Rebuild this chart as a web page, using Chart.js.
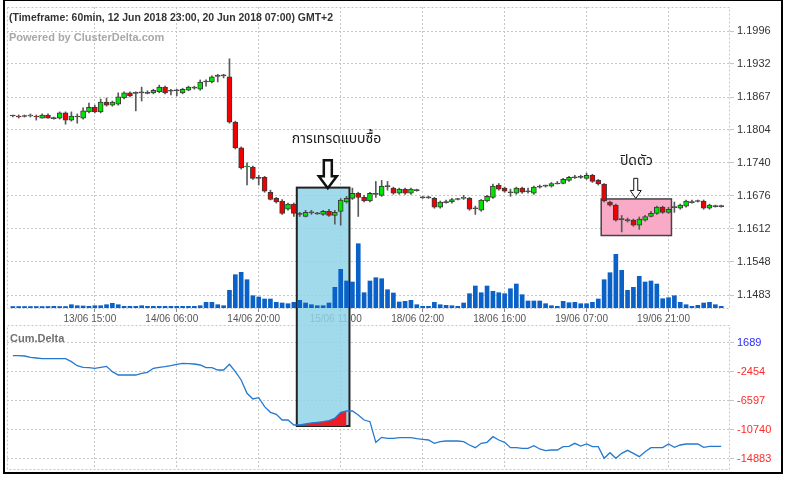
<!DOCTYPE html>
<html>
<head>
<meta charset="utf-8">
<script src="https://cdn.jsdelivr.net/npm/chart.js@4.4.1/dist/chart.umd.min.js"></script>
<style>
  body { margin: 0; background: #fff; }
  #wrap { position: relative; width: 789px; height: 480px; }
  canvas { position: absolute; left: 0; }
  #top { top: 0; }
  #bottom { top: 325px; }
  #frame { position: absolute; left: 3px; top: -1px; width: 780px; height: 475px; box-sizing: border-box; border: 2px solid #000; pointer-events: none; }
</style>
</head>
<body>
<div id="wrap">
  <canvas id="top" width="789" height="325"></canvas>
  <canvas id="bottom" width="789" height="150"></canvas>
  <div id="frame"></div>
</div>
<script>
// --- ข้อมูล (1 แท่ง = 1 ชั่วโมง) ---
const openP = [1.1831,1.1831,1.1831,1.1831,1.1831,1.1827,1.1833,1.1827,1.1827,1.1837,
  1.1823,1.1829,1.1827,1.1839,1.1848,1.1839,1.1858,1.1852,1.1854,1.1866,
  1.1876,1.1876,1.1876,1.1876,1.1876,1.1878,1.1887,1.1880,1.1880,1.1876,
  1.1881,1.1885,1.1883,1.1897,1.1897,1.1909,1.1909,1.1907,1.1819,1.1769,
  1.1732,1.1732,1.1712,1.1712,1.1683,1.1671,1.1666,1.1650,1.1660,1.1642,
  1.1636,1.1644,1.1642,1.1640,1.1646,1.1638,1.1646,1.1664,1.1671,1.1681,
  1.1673,1.1666,1.1679,1.1677,1.1695,1.1691,1.1681,1.1689,1.1681,1.1687,
  1.1673,1.1673,1.1671,1.1654,1.1664,1.1664,1.1669,1.1671,1.1671,1.1652,
  1.1648,1.1666,1.1673,1.1697,1.1691,1.1683,1.1681,1.1691,1.1685,1.1681,
  1.1693,1.1695,1.1695,1.1700,1.1700,1.1706,1.1712,1.1712,1.1710,1.1716,
  1.1706,1.1699,1.1664,1.1658,1.1631,1.1629,1.1629,1.1619,1.1629,1.1636,
  1.1642,1.1654,1.1644,1.1654,1.1652,1.1656,1.1664,1.1666,1.1666,1.1652,
  1.1656,1.1656];
const highP = [1.1833,1.1833,1.1833,1.1835,1.1833,1.1835,1.1835,1.1829,1.1839,1.1839,
  1.1839,1.1835,1.1847,1.1856,1.1852,1.1864,1.1866,1.1860,1.1876,1.1878,
  1.1878,1.1878,1.1887,1.1880,1.1883,1.1891,1.1889,1.1883,1.1883,1.1885,
  1.1889,1.1889,1.1901,1.1901,1.1909,1.1912,1.1912,1.1942,1.1821,1.1771,
  1.1740,1.1734,1.1716,1.1714,1.1687,1.1673,1.1669,1.1662,1.1662,1.1644,
  1.1648,1.1648,1.1644,1.1648,1.1650,1.1648,1.1671,1.1675,1.1691,1.1683,
  1.1677,1.1683,1.1704,1.1706,1.1704,1.1693,1.1691,1.1691,1.1691,1.1689,
  1.1675,1.1675,1.1673,1.1666,1.1668,1.1671,1.1671,1.1677,1.1673,1.1656,
  1.1669,1.1677,1.1699,1.1700,1.1693,1.1689,1.1693,1.1693,1.1691,1.1695,
  1.1697,1.1697,1.1702,1.1704,1.1710,1.1714,1.1716,1.1716,1.1720,1.1718,
  1.1708,1.1700,1.1666,1.1660,1.1638,1.1633,1.1631,1.1635,1.1638,1.1646,
  1.1656,1.1656,1.1654,1.1664,1.1660,1.1668,1.1668,1.1668,1.1668,1.1660,
  1.1658,1.1658];
const lowP = [1.1829,1.1827,1.1829,1.1829,1.1823,1.1827,1.1827,1.1825,1.1825,1.1815,
  1.1821,1.1817,1.1825,1.1837,1.1837,1.1837,1.1850,1.1850,1.1852,1.1864,
  1.1868,1.1841,1.1860,1.1874,1.1874,1.1876,1.1874,1.1872,1.1870,1.1874,
  1.1880,1.1883,1.1881,1.1889,1.1895,1.1897,1.1905,1.1817,1.1767,1.1728,
  1.1697,1.1708,1.1697,1.1683,1.1668,1.1662,1.1640,1.1648,1.1636,1.1636,
  1.1635,1.1640,1.1640,1.1638,1.1636,1.1621,1.1619,1.1662,1.1669,1.1636,
  1.1664,1.1664,1.1673,1.1675,1.1687,1.1679,1.1679,1.1679,1.1679,1.1685,
  1.1671,1.1671,1.1652,1.1652,1.1662,1.1662,1.1668,1.1669,1.1648,1.1640,
  1.1646,1.1664,1.1671,1.1687,1.1683,1.1675,1.1679,1.1681,1.1681,1.1679,
  1.1691,1.1693,1.1693,1.1699,1.1699,1.1704,1.1710,1.1710,1.1708,1.1702,
  1.1697,1.1664,1.1656,1.1627,1.1606,1.1625,1.1617,1.1611,1.1627,1.1635,
  1.1640,1.1642,1.1642,1.1644,1.1650,1.1654,1.1662,1.1664,1.1650,1.1650,
  1.1654,1.1654];
const closeP = [1.1831,1.1829,1.1830,1.1833,1.1829,1.1833,1.1827,1.1826,1.1837,1.1823,
  1.1831,1.1830,1.1841,1.1848,1.1839,1.1858,1.1852,1.1858,1.1868,1.1876,
  1.1870,1.1875,1.1877,1.1875,1.1881,1.1887,1.1876,1.1879,1.1880,1.1883,
  1.1887,1.1886,1.1897,1.1898,1.1907,1.1908,1.1909,1.1819,1.1769,1.1730,
  1.1734,1.1710,1.1710,1.1685,1.1669,1.1664,1.1642,1.1660,1.1642,1.1640,
  1.1644,1.1643,1.1641,1.1646,1.1638,1.1644,1.1668,1.1671,1.1681,1.1673,
  1.1666,1.1681,1.1680,1.1695,1.1694,1.1681,1.1689,1.1681,1.1689,1.1686,
  1.1672,1.1672,1.1654,1.1664,1.1663,1.1669,1.1669,1.1673,1.1650,1.1651,
  1.1668,1.1675,1.1695,1.1689,1.1685,1.1682,1.1691,1.1683,1.1684,1.1693,
  1.1694,1.1695,1.1700,1.1699,1.1708,1.1712,1.1711,1.1713,1.1716,1.1704,
  1.1699,1.1666,1.1658,1.1629,1.1630,1.1628,1.1619,1.1631,1.1636,1.1642,
  1.1654,1.1644,1.1650,1.1653,1.1658,1.1666,1.1663,1.1665,1.1652,1.1658,
  1.1655,1.1655];
const volume = [150,150,150,150,150,150,150,170,150,150,
  330,230,200,170,230,230,330,470,330,170,
  170,170,230,170,170,170,170,170,170,170,
  170,170,230,570,570,330,230,1770,3330,3570,
  2830,1230,1100,900,900,570,500,430,570,770,
  500,330,230,230,500,2070,3870,2700,2600,6430,
  1530,2700,3030,2930,1830,1500,600,670,770,330,
  170,170,570,330,270,230,170,500,1430,2200,
  1530,2200,1670,1530,1430,1930,2400,1330,700,700,
  700,430,230,170,670,530,570,430,430,570,
  900,2830,3530,5370,3770,1770,2070,3170,2600,2700,
  2400,930,1030,1230,570,330,170,270,500,570,
  330,170];
const cumDelta = [-121,-121,-169,-359,-454,-550,-550,-550,-550,-550,
  -978,-1550,-1788,-1836,-1931,-1788,-1645,-2407,-2884,-2884,
  -2884,-2884,-2645,-2502,-1931,-1788,-1693,-1550,-1359,-1216,
  -1264,-1312,-1455,-1836,-1836,-2169,-2169,-1359,-2407,-3598,
  -5503,-6313,-6122,-7408,-8219,-8504,-9315,-9315,-10028,-10028,
  -9886,-9743,-9648,-9552,-9410,-9075,-8219,-8028,-8028,-8599,
  -9315,-9552,-12505,-11791,-11933,-11933,-11838,-11838,-11838,-11981,
  -12076,-12171,-12648,-12410,-12314,-12314,-12314,-12410,-12886,-13267,
  -12648,-12505,-11696,-12171,-12505,-13267,-13267,-13362,-13362,-12981,
  -13457,-13696,-13601,-13601,-13124,-13076,-12648,-13029,-12743,-13124,
  -13124,-14791,-13982,-14791,-14077,-13648,-14077,-14553,-13839,-13267,
  -13267,-13267,-12743,-13219,-12886,-12743,-12743,-12743,-13219,-13076,
  -13076,-13076];
const xTickIdx = [14, 28, 42, 56, 70, 84, 98, 112];
const xTickLabels = ['13/06 15:00','14/06 06:00','14/06 20:00','15/06 11:00','18/06 02:00','18/06 16:00','19/06 07:00','19/06 21:00'];
const priceTicks = [1.1483, 1.1548, 1.1612, 1.1676, 1.1740, 1.1804, 1.1867, 1.1932, 1.1996];
const deltaTicks = [1689, -2454, -6597, -10740, -14883];

// โซนที่ทำเครื่องหมาย
const buyZone = { from: 48.5, to: 57.5, priceTop: 1.1692, deltaBottom: -10172 };
const closeZone = { from: 100.5, to: 112.5, priceTop: 1.1670, priceBottom: 1.1599 };
const buyFill = { from: 49, to: 57 };

const GRID = '#c6c6c6';
const UP = '#00e400', DOWN = '#f00000', DOJI = '#505050';

const idx = openP.map((_, i) => i);
const bodyColor = idx.map(i => Math.abs(closeP[i] - openP[i]) < 0.00012 ? DOJI : (closeP[i] > openP[i] ? UP : DOWN));

function dashedArea(chart) {
  const { ctx, chartArea: a } = chart;
  ctx.save();
  ctx.strokeStyle = GRID;
  ctx.setLineDash([2, 2]);
  ctx.lineWidth = 1;
  ctx.strokeRect(a.left + 0.5, a.top + 0.5, a.right - a.left - 1, a.bottom - a.top);
  ctx.restore();
}

function hollowArrow(ctx, cx, y0, y1, shaftW, headW, headH, lw) {
  ctx.beginPath();
  ctx.moveTo(cx - shaftW / 2, y0);
  ctx.lineTo(cx + shaftW / 2, y0);
  ctx.lineTo(cx + shaftW / 2, y1 - headH);
  ctx.lineTo(cx + headW / 2, y1 - headH);
  ctx.lineTo(cx, y1);
  ctx.lineTo(cx - headW / 2, y1 - headH);
  ctx.lineTo(cx - shaftW / 2, y1 - headH);
  ctx.closePath();
  ctx.fillStyle = '#fff';
  ctx.fill();
  ctx.lineWidth = lw;
  ctx.strokeStyle = '#111';
  ctx.stroke();
}

// ไม่ให้ Chart.js เผื่อที่ว่างครึ่งความสูงป้ายบน/ล่าง
function fixAxis(w) {
  return s => { s.width = w; s.paddingTop = 0; s.paddingBottom = 0; };
}

const THAI = "'Noto Sans Thai', Tahoma, 'DejaVu Sans', sans-serif";

const topPlugin = {
  id: 'topPlugin',
  beforeDatasetsDraw(chart) {
    const { ctx, scales: { x, y } } = chart;
    dashedArea(chart);
    ctx.save();
    ctx.textBaseline = 'middle';
    ctx.font = "bold 11px 'Liberation Sans', Arial, sans-serif";
    ctx.fillStyle = '#333';
    ctx.fillText('(Timeframe: 60min, 12 Jun 2018 23:00, 20 Jun 2018 07:00) GMT+2', 9, 18, 324);
    ctx.fillStyle = '#a8a8a8';
    ctx.fillText('Powered by ClusterDelta.com', 9, 38, 156);

    // กล่องชมพู
    const px1 = x.getPixelForValue(closeZone.from), px2 = x.getPixelForValue(closeZone.to);
    const py1 = y.getPixelForValue(closeZone.priceTop), py2 = y.getPixelForValue(closeZone.priceBottom);
    ctx.fillStyle = '#f9aac6';
    ctx.fillRect(px1, py1, px2 - px1, py2 - py1);
    ctx.strokeStyle = '#444';
    ctx.lineWidth = 1.5;
    ctx.strokeRect(px1, py1, px2 - px1, py2 - py1);

    // กล่องฟ้า (ส่วนบน)
    const bx1 = x.getPixelForValue(buyZone.from), bx2 = x.getPixelForValue(buyZone.to);
    const by1 = y.getPixelForValue(buyZone.priceTop), by2 = chart.height + 2;
    ctx.fillStyle = 'rgba(144,212,232,0.85)';
    ctx.fillRect(bx1, by1, bx2 - bx1, by2 - by1);
    ctx.strokeStyle = '#222';
    ctx.lineWidth = 2;
    ctx.strokeRect(bx1, by1, bx2 - bx1, by2 - by1);
    ctx.restore();
  },
  afterDatasetsDraw(chart) {
    const { ctx, scales: { x, y } } = chart;
    ctx.save();
    hollowArrow(ctx, x.getPixelForValue(53.8), y.getPixelForValue(1.1745), y.getPixelForValue(1.1691), 8, 18, 12, 2.5);
    hollowArrow(ctx, x.getPixelForValue(106.4), y.getPixelForValue(1.1710), y.getPixelForValue(1.1671), 4, 11, 8, 1);
    ctx.fillStyle = '#1a1a1a';
    ctx.textAlign = 'center';
    ctx.textBaseline = 'middle';
    ctx.font = '14px ' + THAI;
    ctx.fillText('การเทรดแบบซื้อ', x.getPixelForValue(55.3), y.getPixelForValue(1.1785));
    ctx.font = '14px ' + THAI;
    ctx.fillText('ปิดตัว', x.getPixelForValue(106.5), y.getPixelForValue(1.1741));
    ctx.restore();
  }
};

const bottomPlugin = {
  id: 'bottomPlugin',
  beforeDatasetsDraw(chart) {
    const { ctx, scales: { x, y } } = chart;
    dashedArea(chart);
    ctx.save();
    ctx.textBaseline = 'middle';
    ctx.font = "bold 11px 'Liberation Sans', Arial, sans-serif";
    ctx.fillStyle = '#707070';
    ctx.fillText('Cum.Delta', 10, 14, 55);
    const bx1 = x.getPixelForValue(buyZone.from), bx2 = x.getPixelForValue(buyZone.to);
    const by1 = -3, by2 = y.getPixelForValue(buyZone.deltaBottom);
    ctx.fillStyle = 'rgba(144,212,232,0.85)';
    ctx.fillRect(bx1, by1, bx2 - bx1, by2 - by1);
    ctx.strokeStyle = '#222';
    ctx.lineWidth = 2;
    ctx.strokeRect(bx1, by1, bx2 - bx1, by2 - by1);
    ctx.restore();
  }
};

const xCommon = {
  type: 'linear', min: -1, max: 122.5, offset: false,
  afterBuildTicks: s => { s.ticks = xTickIdx.map(v => ({ value: v })); },
};

new Chart(document.getElementById('top'), {
  type: 'bar',
  data: {
    datasets: [
      {
        label: 'body', order: 0, grouped: false, barThickness: 5, minBarLength: 1,
        data: idx.map(i => ({ x: i, y: [openP[i], closeP[i]] })),
        backgroundColor: bodyColor, borderColor: '#3a3a3a', borderWidth: 1, borderSkipped: false,
      },
      {
        label: 'wick', order: 1, grouped: false, barThickness: 1,
        data: idx.map(i => ({ x: i, y: [lowP[i], highP[i]] })),
        backgroundColor: '#5a5a5a', borderWidth: 0,
      },
      {
        label: 'volume', order: 2, grouped: false, barThickness: 4, yAxisID: 'vol',
        data: idx.map(i => ({ x: i, y: volume[i] })),
        backgroundColor: '#0a62c8', borderWidth: 0,
      },
    ],
  },
  options: {
    responsive: false, animation: false, devicePixelRatio: 1, events: [],
    layout: { padding: { left: 7, top: 7, right: 0, bottom: 0 } },
    plugins: { legend: { display: false }, tooltip: { enabled: false } },
    scales: {
      x: {
        ...xCommon,
        afterFit: s => { s.height = 17; s.paddingLeft = 0; s.paddingRight = 0; },
        grid: { offset: false, color: GRID, tickLength: 4, tickColor: '#888', tickBorderDash: [] },
        border: { display: false, dash: [2, 2] },
        ticks: {
          callback: (v, i) => xTickLabels[i], autoSkip: false, maxRotation: 0, padding: 1, labelOffset: -5,
          color: '#555', font: { size: 10, family: "'Liberation Sans', Arial, sans-serif" },
        },
      },
      y: {
        position: 'right', min: 1.14583, max: 1.20426,
        afterBuildTicks: s => { s.ticks = priceTicks.map(v => ({ value: v })); },
        afterFit: fixAxis(59),
        grid: { color: GRID, tickLength: 4 },
        border: { display: false, dash: [2, 2] },
        ticks: {
          callback: v => v.toFixed(4), padding: 3, color: '#333',
          font: { size: 11, family: "'Liberation Sans', Arial, sans-serif" },
        },
      },
      vol: { position: 'left', display: false, min: 0, max: 30100 },
    },
  },
  plugins: [topPlugin],
});

new Chart(document.getElementById('bottom'), {
  type: 'line',
  data: {
    datasets: [
      {
        label: 'Cum.Delta', order: 0,
        data: idx.map(i => ({ x: i, y: cumDelta[i] })),
        borderColor: '#2479d0', borderWidth: 1.3, pointRadius: 0, tension: 0, fill: false,
      },
      {
        label: 'buy', order: 1,
        data: idx.filter(i => i >= buyFill.from && i <= buyFill.to).map(i => ({ x: i, y: cumDelta[i] })),
        borderWidth: 0, pointRadius: 0, tension: 0,
        backgroundColor: '#ee1c24', fill: { value: buyZone.deltaBottom },
      },
    ],
  },
  options: {
    responsive: false, animation: false, devicePixelRatio: 1, events: [],
    layout: { padding: { left: 7, top: 0, right: 0, bottom: 6 } },
    plugins: { legend: { display: false }, tooltip: { enabled: false } },
    scales: {
      x: {
        ...xCommon,
        afterFit: s => { s.height = 0; s.paddingLeft = 0; s.paddingRight = 0; },
        grid: { offset: false, color: GRID, tickLength: 0 },
        border: { display: false, dash: [2, 2] },
        ticks: { display: false },
      },
      y: {
        position: 'right', min: -16316, max: 4261,
        afterBuildTicks: s => { s.ticks = deltaTicks.map(v => ({ value: v })); },
        afterFit: fixAxis(59),
        grid: { color: GRID, tickLength: 4 },
        border: { display: false, dash: [2, 2] },
        ticks: {
          callback: v => String(v), padding: 3,
          color: c => c.tick.value > 0 ? '#2a2aff' : '#ff2a2a',
          font: { size: 11, family: "'Liberation Sans', Arial, sans-serif" },
        },
      },
    },
  },
  plugins: [bottomPlugin],
});
</script>
</body>
</html>
